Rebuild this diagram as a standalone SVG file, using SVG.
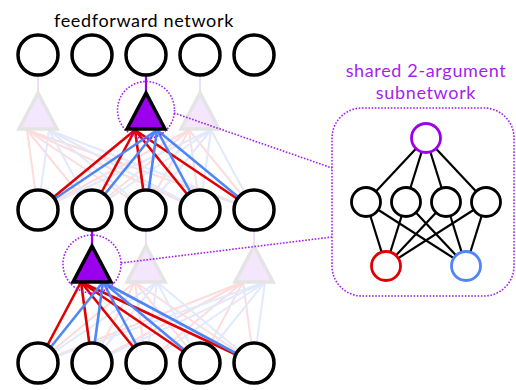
<svg xmlns="http://www.w3.org/2000/svg" width="516" height="390" viewBox="0 0 516 390">
<style>
.node{fill:#fff;stroke:#000;stroke-width:3.5}
.snode{fill:#fff;stroke:#000;stroke-width:2.8}
.tri{fill:#9b00ee;stroke:#000;stroke-width:3.5;stroke-linejoin:miter}
.ftri{fill:#f4e6fd;stroke:#e4e4e4;stroke-width:3.5;stroke-linejoin:miter}
.r{stroke:#e00000;stroke-width:2.6}
.b{stroke:#4f86f7;stroke-width:2.6}
.fr{stroke:#fcdcdc;stroke-width:2}
.fb{stroke:#e1e9fd;stroke-width:2}
.stub{stroke:#9b00ee;stroke-width:2.2}
.fstub{stroke:#f1dcfb;stroke-width:2}
.dot{fill:none;stroke:#a51ef0;stroke-width:1.6;stroke-dasharray:1.6 1.6}
.se{stroke:#000;stroke-width:2.2}
.t{font-family:Lato,"Open Sans","Liberation Sans",sans-serif;font-size:18px;text-anchor:middle;letter-spacing:0.65px}
</style>
<text class="t" x="144" y="27" fill="#000">feedforward network</text>
<text class="t" x="426" y="77" fill="#a51ef0">shared 2-argument</text>
<text class="t" x="426" y="99" fill="#a51ef0">subnetwork</text>
<g id="connectors">
<g class="fr">
<line x1="27" y1="130" x2="38" y2="210"/><line x1="27" y1="130" x2="92" y2="210"/><line x1="27" y1="130" x2="146" y2="210"/><line x1="27" y1="130" x2="200" y2="210"/><line x1="27" y1="130" x2="254" y2="210"/>
<line x1="189" y1="130" x2="38" y2="210"/><line x1="189" y1="130" x2="92" y2="210"/><line x1="189" y1="130" x2="146" y2="210"/><line x1="189" y1="130" x2="200" y2="210"/><line x1="189" y1="130" x2="254" y2="210"/>
<line x1="135" y1="282" x2="38" y2="363"/><line x1="135" y1="282" x2="92" y2="363"/><line x1="135" y1="282" x2="146" y2="363"/><line x1="135" y1="282" x2="200" y2="363"/><line x1="135" y1="282" x2="254" y2="363"/>
<line x1="243" y1="282" x2="38" y2="363"/><line x1="243" y1="282" x2="92" y2="363"/><line x1="243" y1="282" x2="146" y2="363"/><line x1="243" y1="282" x2="200" y2="363"/><line x1="243" y1="282" x2="254" y2="363"/>
</g>
<g class="fb">
<line x1="49" y1="130" x2="38" y2="210"/><line x1="49" y1="130" x2="92" y2="210"/><line x1="49" y1="130" x2="146" y2="210"/><line x1="49" y1="130" x2="200" y2="210"/><line x1="49" y1="130" x2="254" y2="210"/>
<line x1="211" y1="130" x2="38" y2="210"/><line x1="211" y1="130" x2="92" y2="210"/><line x1="211" y1="130" x2="146" y2="210"/><line x1="211" y1="130" x2="200" y2="210"/><line x1="211" y1="130" x2="254" y2="210"/>
<line x1="157" y1="282" x2="38" y2="363"/><line x1="157" y1="282" x2="92" y2="363"/><line x1="157" y1="282" x2="146" y2="363"/><line x1="157" y1="282" x2="200" y2="363"/><line x1="157" y1="282" x2="254" y2="363"/>
<line x1="265" y1="282" x2="38" y2="363"/><line x1="265" y1="282" x2="92" y2="363"/><line x1="265" y1="282" x2="146" y2="363"/><line x1="265" y1="282" x2="200" y2="363"/><line x1="265" y1="282" x2="254" y2="363"/>
</g>
<g class="fstub">
<line x1="38" y1="75" x2="38" y2="92"/><line x1="200" y1="75" x2="200" y2="92"/>
<line x1="146" y1="230" x2="146" y2="245"/><line x1="254" y1="230" x2="254" y2="245"/>
</g>
</g>
<g id="faded-triangles">
<polygon class="ftri" points="38,93 19,129 57,129"/>
<polygon class="ftri" points="200,93 181,129 219,129"/>
<polygon class="ftri" points="146,246 127,282 165,282"/>
<polygon class="ftri" points="254,246 235,282 273,282"/>
</g>
<g id="main-connectors">
<g class="r">
<line x1="135" y1="130" x2="38" y2="210"/><line x1="135" y1="130" x2="92" y2="210"/><line x1="135" y1="130" x2="146" y2="210"/><line x1="135" y1="130" x2="200" y2="210"/><line x1="135" y1="130" x2="254" y2="210"/>
<line x1="81" y1="282" x2="38" y2="363"/><line x1="81" y1="282" x2="92" y2="363"/><line x1="81" y1="282" x2="146" y2="363"/><line x1="81" y1="282" x2="200" y2="363"/><line x1="81" y1="282" x2="254" y2="363"/>
</g>
<g class="b">
<line x1="157" y1="130" x2="38" y2="210"/><line x1="157" y1="130" x2="92" y2="210"/><line x1="157" y1="130" x2="146" y2="210"/><line x1="157" y1="130" x2="200" y2="210"/><line x1="157" y1="130" x2="254" y2="210"/>
<line x1="103" y1="282" x2="38" y2="363"/><line x1="103" y1="282" x2="92" y2="363"/><line x1="103" y1="282" x2="146" y2="363"/><line x1="103" y1="282" x2="200" y2="363"/><line x1="103" y1="282" x2="254" y2="363"/>
</g>
<line class="stub" x1="146" y1="75" x2="146" y2="92"/>
<line class="stub" x1="92" y1="230" x2="92" y2="245"/>
<circle class="dot" cx="146" cy="110" r="28.5"/>
<circle class="dot" cx="92" cy="264" r="29"/>
<line class="dot" x1="174" y1="113" x2="332" y2="168"/>
<line class="dot" x1="121" y1="263" x2="332" y2="237"/>
</g>
<g id="tri-top"><polygon class="tri" points="146,93 127,129 165,129"/></g>
<g id="tri-bottom"><polygon class="tri" points="92,246 73,282 111,282"/></g>
<g id="row-top">
<circle class="node" cx="38" cy="55" r="20"/><circle class="node" cx="92" cy="55" r="20"/><circle class="node" cx="146" cy="55" r="20"/><circle class="node" cx="200" cy="55" r="20"/><circle class="node" cx="254" cy="55" r="20"/>
</g>
<g id="row-middle">
<circle class="node" cx="38" cy="210" r="20"/><circle class="node" cx="92" cy="210" r="20"/><circle class="node" cx="146" cy="210" r="20"/><circle class="node" cx="200" cy="210" r="20"/><circle class="node" cx="254" cy="210" r="20"/>
</g>
<g id="row-bottom">
<circle class="node" cx="38" cy="363" r="20"/><circle class="node" cx="92" cy="363" r="20"/><circle class="node" cx="146" cy="363" r="20"/><circle class="node" cx="200" cy="363" r="20"/><circle class="node" cx="254" cy="363" r="20"/>
</g>
<g id="subnetwork">
<rect class="dot" x="332" y="108" width="182" height="188" rx="30"/>
<g class="se">
<line x1="426" y1="138" x2="366" y2="202"/><line x1="426" y1="138" x2="406" y2="202"/><line x1="426" y1="138" x2="446" y2="202"/><line x1="426" y1="138" x2="486" y2="202"/>
<line x1="366" y1="202" x2="386" y2="266"/><line x1="406" y1="202" x2="386" y2="266"/><line x1="446" y1="202" x2="386" y2="266"/><line x1="486" y1="202" x2="386" y2="266"/>
<line x1="366" y1="202" x2="466" y2="266"/><line x1="406" y1="202" x2="466" y2="266"/><line x1="446" y1="202" x2="466" y2="266"/><line x1="486" y1="202" x2="466" y2="266"/>
</g>
<circle class="snode" cx="426" cy="138" r="14.5" style="stroke:#9b00ee"/>
<circle class="snode" cx="366" cy="202" r="14.5"/><circle class="snode" cx="406" cy="202" r="14.5"/><circle class="snode" cx="446" cy="202" r="14.5"/><circle class="snode" cx="486" cy="202" r="14.5"/>
<circle class="snode" cx="386" cy="266" r="14.5" style="stroke:#e00000"/>
<circle class="snode" cx="466" cy="266" r="14.5" style="stroke:#4f86f7"/>
</g>
</svg>
